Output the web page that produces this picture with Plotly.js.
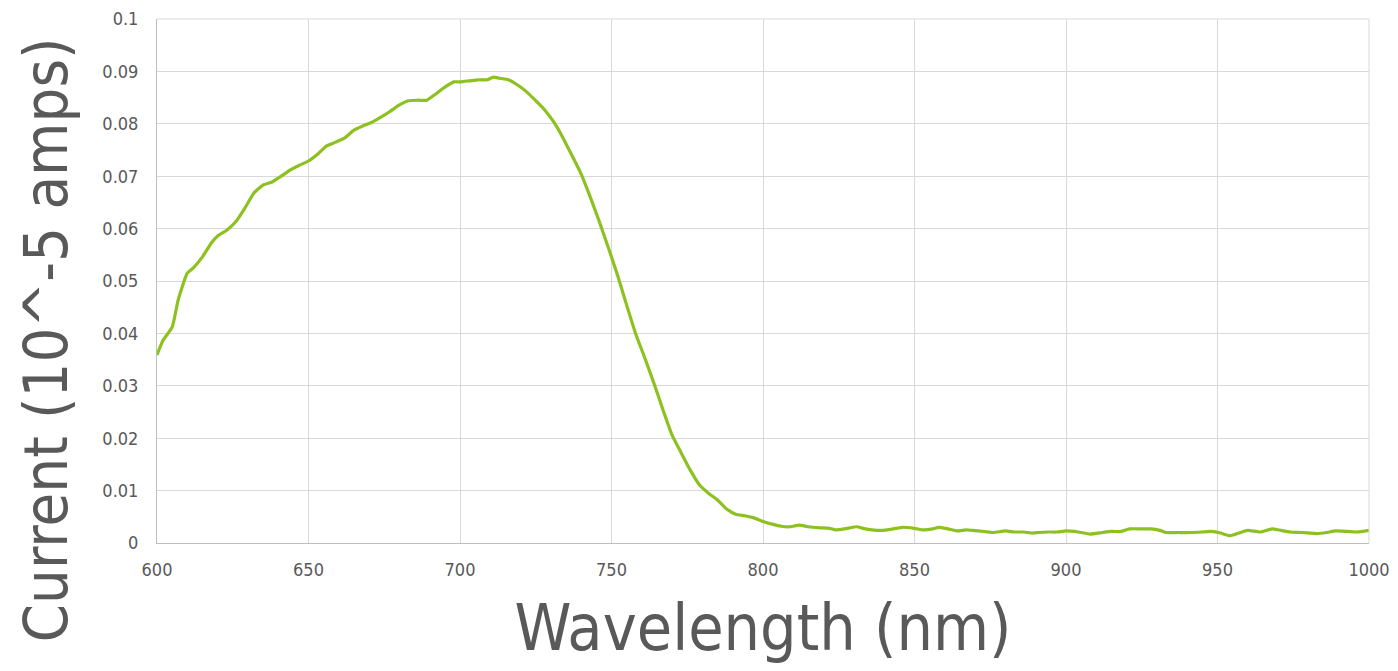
<!DOCTYPE html>
<html>
<head>
<meta charset="utf-8">
<script src="https://cdn.plot.ly/plotly-3.0.1.min.js"></script>
<style>html,body{margin:0;padding:0;background:#fff;}#chart{width:1398px;height:671px;}</style>
</head>
<body>
<div id="chart"></div>
<script>
const wavelength = [600,602,605,607,610,612,615,618,620,623,626,629,632,635,638,641,644,647,650,653,656,659,662,665,668,671,674,677,680,683,686,689,692,695,698,700,703,706,709,711,713,716,719,722,725,728,731,734,737,740,743,746,749,752,755,758,761,764,767,770,773,776,779,782,785,788,791,794,797,800,803,806,809,812,815,819,822,824,827,831,833,836,839,843,846,850,853,856,858,861,864,867,869,873,876,880,883,886,889,891,894,897,900,904,908,912,915,918,921,925,928,931,933,937,941,945,948,951,954,957,960,964,968,971,974,978,983,986,989,993,996,1000];
const current = [0.0359,0.0387,0.0412,0.0464,0.0515,0.0525,0.0546,0.0573,0.0586,0.0597,0.0613,0.0639,0.0668,0.0683,0.0689,0.0700,0.0712,0.0721,0.0729,0.0742,0.0758,0.0765,0.0773,0.0788,0.0796,0.0803,0.0813,0.0824,0.0836,0.0844,0.0845,0.0845,0.0857,0.0870,0.0880,0.0880,0.0882,0.0884,0.0884,0.0889,0.0887,0.0884,0.0874,0.0861,0.0844,0.0826,0.0803,0.0773,0.0739,0.0704,0.0660,0.0613,0.0563,0.0511,0.0454,0.0399,0.0353,0.0305,0.0254,0.0206,0.0172,0.0139,0.0111,0.0095,0.0082,0.0065,0.0055,0.0052,0.0048,0.0041,0.0036,0.0032,0.0031,0.0034,0.0031,0.0029,0.0028,0.0025,0.0027,0.0031,0.0028,0.0025,0.0024,0.0027,0.0030,0.0028,0.0025,0.0027,0.0030,0.0027,0.0023,0.0025,0.0024,0.0022,0.0020,0.0023,0.0021,0.0021,0.0019,0.0020,0.0021,0.0021,0.0023,0.0021,0.0017,0.0020,0.0022,0.0022,0.0027,0.0027,0.0027,0.0024,0.0020,0.0020,0.0020,0.0021,0.0022,0.0019,0.0014,0.0019,0.0024,0.0021,0.0027,0.0024,0.0021,0.0020,0.0018,0.0020,0.0023,0.0022,0.0021,0.0024];
const xTicks = [600,650,700,750,800,850,900,950,1000];
const yTicks = [0,0.01,0.02,0.03,0.04,0.05,0.06,0.07,0.08,0.09,0.1];
const yTickText = ['0','0.01','0.02','0.03','0.04','0.05','0.06','0.07','0.08','0.09','0.1'];
const xTitle = 'Wavelength (nm)';
const yTitle = 'Current (10^-5 amps)';

const FONT = '"DejaVu Sans Condensed", "Liberation Sans Narrow", "Roboto", sans-serif';
const trace = {
  x: wavelength, y: current, type: 'scatter', mode: 'lines',
  line: {color: '#8cc11f', width: 3.2, shape: 'spline', smoothing: 0.5},
  hoverinfo: 'skip'
};
const layout = {
  width: 1398, height: 671,
  margin: {l: 157, r: 29, t: 19, b: 128},
  paper_bgcolor: '#ffffff', plot_bgcolor: '#ffffff',
  showlegend: false,
  font: {family: FONT, color: '#595959'},
  xaxis: {
    range: [600, 1000], tickvals: xTicks, ticktext: xTicks.map(String),
    showgrid: true, gridcolor: '#d9d9d9', gridwidth: 1,
    showline: true, linecolor: '#bfbfbf', linewidth: 1,
    zeroline: false, ticks: '', ticklen: 0, ticklabelstandoff: 10,
    tickfont: {size: 18, color: '#595959', family: FONT},
    title: {text: xTitle, font: {size: 64, color: '#595959', family: FONT}, standoff: 26}
  },
  yaxis: {
    range: [0, 0.1], tickvals: yTicks, ticktext: yTickText,
    showgrid: true, gridcolor: '#d9d9d9', gridwidth: 1,
    showline: true, linecolor: '#bfbfbf', linewidth: 1,
    zeroline: false, ticks: '', ticklen: 0, ticklabelstandoff: 14,
    tickfont: {size: 18, color: '#595959', family: FONT}
  },
  annotations: [{
    text: yTitle, xref: 'paper', yref: 'paper', x: -0.0924, y: 0.387,
    xanchor: 'center', yanchor: 'middle', textangle: -90, showarrow: false,
    font: {size: 61, color: '#595959', family: FONT}
  }],
  shapes: [
    {type: 'line', xref: 'paper', yref: 'paper', x0: 1, x1: 1, y0: 0, y1: 1, line: {color: '#d9d9d9', width: 1}},
    {type: 'line', xref: 'paper', yref: 'paper', x0: 0, x1: 1, y0: 1, y1: 1, line: {color: '#d9d9d9', width: 1}}
  ]
};
Plotly.newPlot('chart', [trace], layout, {displayModeBar: false, staticPlot: true});
</script>
</body>
</html>
